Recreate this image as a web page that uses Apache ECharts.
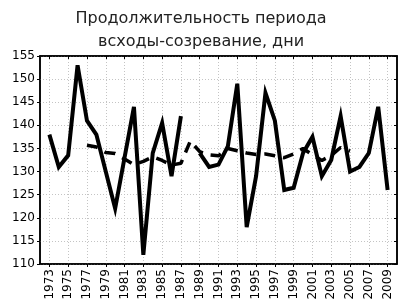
<!DOCTYPE html>
<html>
<head>
<meta charset="utf-8">
<script src="https://cdn.jsdelivr.net/npm/echarts@6/dist/echarts.min.js"></script>
<style>html,body{margin:0;padding:0;background:#fff;}#c{width:402px;height:308px;}</style>
</head>
<body>
<div id="c"></div>
<script>
const titleText = 'Продолжительность периода\nвсходы-созревание, дни';
const years = [1973,1974,1975,1976,1977,1978,1979,1980,1981,1982,1983,1984,1985,1986,1987,1988,1989,1990,1991,1992,1993,1994,1995,1996,1997,1998,1999,2000,2001,2002,2003,2004,2005,2006,2007,2008,2009];
const duration = [138,131,133.5,153,141,138,130,122,133,144,112,134,140.5,129,142,null,134,131,131.5,135.5,149,118,129,147,141,126,126.5,134,137.5,129,132.5,142,130,131,134,144,126];
const trendYears = [1977,1978,1979,1980,1981,1982,1983,1984,1985,1986,1987,1988,1989,1990,1991,1992,1993,1994,1995,1996,1997,1998,1999,2000,2001,2002,2003,2004,2005];
const trend = [135.7,135.3,134.1,133.9,132.7,131.5,132.2,133.2,132.4,131.4,131.8,136.6,134.3,133.6,133.4,135.0,134.5,134.0,133.7,133.8,133.4,133.0,133.8,135.0,133.6,132.4,133.5,135.2,134.4];
const yTicks = {min:110, max:155, step:5};
const axisStart = 1972, axisEnd = 2010;

const cats = [];
for (let y = axisStart; y <= axisEnd; y++) cats.push(String(y));
const solidData = cats.map(c => { const i = years.indexOf(+c); return i >= 0 ? duration[i] : null; });
const trendData = cats.map(c => { const i = trendYears.indexOf(+c); return i >= 0 ? trend[i] : null; });
const oddYear = (idx, val) => (+val) % 2 === 1;

const font = 'DejaVu Sans';
const chart = echarts.init(document.getElementById('c'), null, {renderer:'canvas'});
chart.setOption({
  backgroundColor:'#fff',
  animation:false,
  title:{text:titleText, left:'center', top:7, padding:0,
    textStyle:{fontFamily:font, fontSize:16, fontWeight:'normal', color:'#222', lineHeight:23}},
  grid:{left:40, right:5, top:56, bottom:44, show:true, borderColor:'#000', borderWidth:1.5, backgroundColor:'transparent'},
  xAxis:[{
    type:'category', data:cats, boundaryGap:false,
    axisLine:{show:true, lineStyle:{color:'#000', width:1.5}},
    axisTick:{show:true, inside:false, length:3, interval:oddYear, lineStyle:{color:'#000'}},
    axisLabel:{interval:oddYear, rotate:90, margin:5, fontFamily:font, fontSize:12, color:'#000'},
    splitLine:{show:true, interval:oddYear, lineStyle:{color:'#c4c4c4', type:[1,2], width:1}}
  },{
    type:'category', data:cats, boundaryGap:false, position:'top',
    axisLine:{show:true, lineStyle:{color:'#000', width:1.5}},
    axisTick:{show:true, inside:true, length:3, interval:oddYear, lineStyle:{color:'#000'}},
    axisLabel:{show:false}, splitLine:{show:false}
  }],
  yAxis:[{
    type:'value', min:yTicks.min, max:yTicks.max, interval:yTicks.step,
    axisLine:{show:true, lineStyle:{color:'#000', width:1.5}},
    axisTick:{show:true, inside:false, length:3, lineStyle:{color:'#000'}},
    axisLabel:{margin:5, fontFamily:font, fontSize:12, color:'#000'},
    splitLine:{show:true, lineStyle:{color:'#c4c4c4', type:[1,2], width:1}}
  },{
    type:'value', min:yTicks.min, max:yTicks.max, interval:yTicks.step, position:'right',
    axisLine:{show:true, lineStyle:{color:'#000', width:1.5}},
    axisTick:{show:true, inside:true, length:3, lineStyle:{color:'#000'}},
    axisLabel:{show:false}, splitLine:{show:false}
  }],
  series:[{
    type:'line', data:trendData, xAxisIndex:0, yAxisIndex:0, showSymbol:false, symbol:'none',
    connectNulls:false, z:2,
    lineStyle:{color:'#000', width:3.5, type:[11,8]}
  },{
    type:'line', data:solidData, xAxisIndex:0, yAxisIndex:0, showSymbol:false, symbol:'none',
    connectNulls:false, z:3,
    lineStyle:{color:'#000', width:4, join:'miter', miterLimit:6}
  }]
});
</script>
</body>
</html>
